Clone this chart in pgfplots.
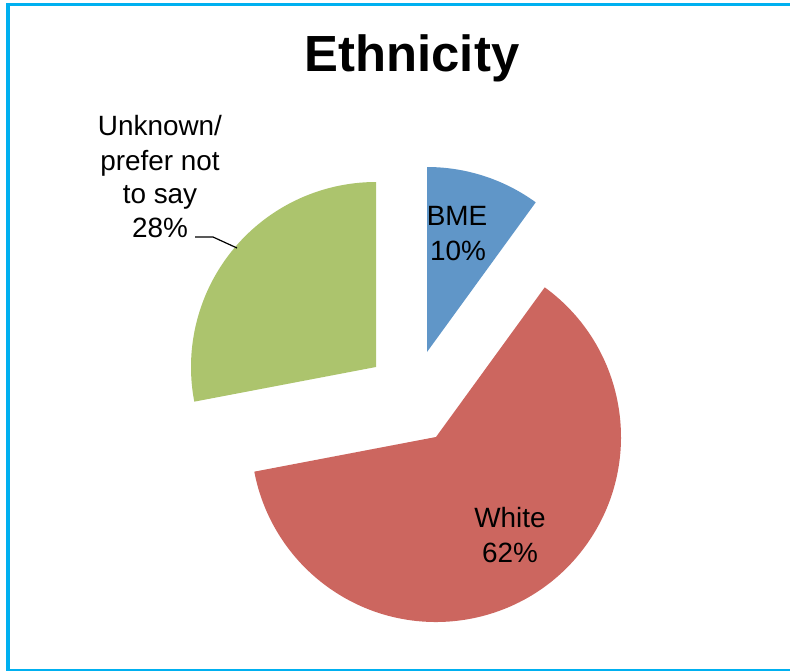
\documentclass[border=0pt]{standalone}
\usepackage{pgfplots}
\pgfplotsset{compat=1.18}
\usepackage{fontspec}
\setmainfont{Liberation Sans}
\definecolor{bmeblue}{RGB}{96,150,200}
\definecolor{whitered}{RGB}{204,102,95}
\definecolor{unkgreen}{RGB}{172,196,109}
\definecolor{frame}{RGB}{0,176,240}
% slice: vertex x, vertex y (pixels), start %, end % (cumulative), colour
\newcommand\slice[5]{\fill[#5] (axis cs:#1,#2) -- ++({90-3.6*#3}:185bp) arc[start angle={90-3.6*#3}, end angle={90-3.6*#4}, radius=185bp] -- cycle;}
\begin{document}
\begin{tikzpicture}
\useasboundingbox (0,0) rectangle (790bp,671bp);
\begin{axis}[
  scale only axis, width=790bp, height=671bp,
  xmin=0, xmax=790, ymin=0, ymax=671, y dir=reverse,
  hide axis, clip=false,
]
% data: BME 10, White 62, Unknown 28
\slice{427}{352}{0}{10}{bmeblue}
\slice{436}{437}{10}{72}{whitered}
\slice{376}{367}{72}{100}{unkgreen}
% frame
\draw[frame, line width=3bp] (axis cs:8,700) -- (axis cs:8,5) -- (axis cs:820,5);
\draw[frame, line width=2bp] (axis cs:8,670) -- (axis cs:820,670);
% title
\node[anchor=base, font=\fontsize{51}{60}\selectfont\bfseries] at (axis cs:412,72) {Ethnicity};
% labels
\node[anchor=base, font=\fontsize{28}{34}\selectfont] at (axis cs:457,225) {BME};
\node[anchor=base, font=\fontsize{28}{34}\selectfont] at (axis cs:458,260) {10\%};
\node[anchor=base, font=\fontsize{28}{34}\selectfont] at (axis cs:510,527) {White};
\node[anchor=base, font=\fontsize{28}{34}\selectfont] at (axis cs:510,562) {62\%};
\node[anchor=base, font=\fontsize{28}{34}\selectfont] at (axis cs:160,136) {Unknown/};
\node[anchor=base, font=\fontsize{28}{34}\selectfont] at (axis cs:160,170) {prefer not};
\node[anchor=base, font=\fontsize{28}{34}\selectfont] at (axis cs:160,203) {to say};
\node[anchor=base, font=\fontsize{28}{34}\selectfont] at (axis cs:160,237) {28\%};
\draw[black, line width=1.2bp] (axis cs:195,237) -- (axis cs:213,237) -- (axis cs:237,248);
\end{axis}
\end{tikzpicture}
\end{document}
